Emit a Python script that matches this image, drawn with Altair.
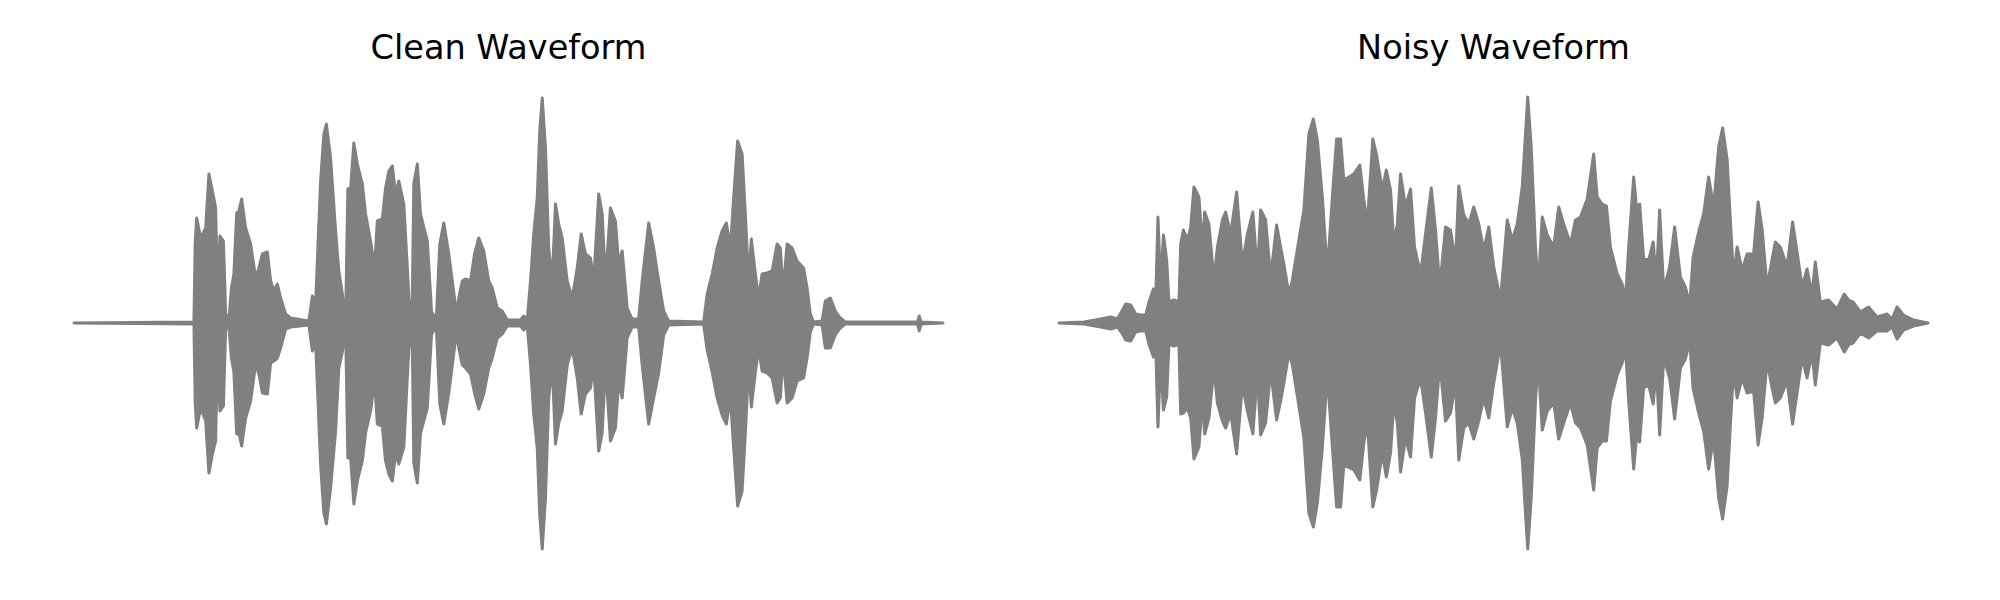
import altair as alt
import pandas as pd

# ---- Clean waveform envelope (time in s, amplitude in arbitrary units) ----
clean_t = [0.000, 0.480, 0.485, 0.491, 0.507, 0.527, 0.540, 0.554, 0.567, 0.574,
           0.584, 0.598, 0.607, 0.620, 0.630, 0.640, 0.651, 0.660, 0.671, 0.687,
           0.707, 0.727, 0.740, 0.754, 0.774, 0.787, 0.800, 0.814, 0.827, 0.847,
           0.867, 0.940, 0.954, 0.967, 0.976, 0.987, 1.000, 1.010, 1.027, 1.047,
           1.060, 1.074, 1.087, 1.096, 1.107, 1.120, 1.134, 1.154, 1.167, 1.187,
           1.203, 1.214, 1.234, 1.247, 1.260, 1.274, 1.287, 1.300, 1.320, 1.334,
           1.344, 1.354, 1.360, 1.374, 1.387, 1.414, 1.431, 1.443, 1.451, 1.464,
           1.480, 1.500, 1.514, 1.531, 1.540, 1.554, 1.567, 1.587, 1.603, 1.620,
           1.640, 1.660, 1.674, 1.694, 1.714, 1.734, 1.787, 1.800, 1.814, 1.827,
           1.840, 1.854, 1.864, 1.874, 1.887, 1.900, 1.914, 1.927, 1.940, 1.954,
           1.974, 1.994, 2.014, 2.030, 2.047, 2.067, 2.080, 2.100, 2.114, 2.127,
           2.147, 2.167, 2.180, 2.194, 2.214, 2.234, 2.260, 2.274, 2.300, 2.320,
           2.340, 2.360, 2.380, 2.520, 2.534, 2.554, 2.574, 2.594, 2.611, 2.627,
           2.640, 2.656, 2.674, 2.687, 2.700, 2.711, 2.727, 2.740, 2.754, 2.774,
           2.794, 2.814, 2.827, 2.838, 2.854, 2.874, 2.894, 2.920, 2.934, 2.947,
           2.960, 2.994, 3.007, 3.027, 3.047, 3.067, 3.087, 3.376, 3.383, 3.390,
           3.478]
clean_top = [0, 1, 80, 105, 85, 95, 149, 132, 115, 32,
             87, 82, 9, 4, 35, 49, 110, 112, 124, 95,
             79, 45, 55, 69, 71, 42, 32, 39, 25, 9,
             5, 2, 27, 19, 75, 142, 189, 199, 165, 92,
             52, 29, 3, 134, 135, 180, 159, 139, 109, 82,
             55, 102, 104, 135, 152, 157, 129, 142, 119, 55,
             9, 24, 139, 159, 109, 82, 12, 5, 9, 79,
             100, 69, 42, 9, 25, 42, 44, 42, 69, 85,
             72, 42, 35, 15, 12, 3, 3, 7, 3, 42,
             89, 125, 192, 225, 175, 75, 42, 119, 99, 85,
             42, 25, 55, 89, 69, 65, 42, 129, 109, 42,
             115, 102, 59, 72, 15, 4, 4, 42, 100, 75,
             42, 12, 2, 1, 29, 49, 75, 92, 100, 75,
             125, 182, 169, 109, 42, 84, 49, 25, 49, 50,
             52, 79, 75, 32, 79, 75, 62, 55, 35, 9,
             1, 2, 22, 25, 12, 5, 1, 1, 7, 1,
             0]
clean_bot = [0, 1, 80, 105, 85, 98, 150, 131, 118, 31,
             88, 83, 5, 4, 35, 49, 111, 110, 123, 95,
             78, 41, 51, 70, 71, 40, 38, 35, 25, 6,
             4, 2, 28, 20, 75, 142, 190, 201, 165, 108,
             45, 29, 3, 135, 135, 181, 158, 138, 110, 88,
             58, 101, 103, 138, 151, 158, 130, 141, 124, 55,
             9, 24, 140, 160, 110, 85, 12, 5, 9, 81,
             101, 70, 42, 9, 25, 42, 45, 51, 70, 86,
             71, 45, 35, 15, 11, 3, 3, 7, 3, 41,
             91, 125, 192, 226, 175, 75, 42, 121, 100, 88,
             42, 25, 55, 91, 71, 65, 42, 128, 110, 42,
             118, 105, 59, 75, 15, 4, 4, 42, 101, 75,
             50, 12, 2, 1, 27, 49, 75, 92, 101, 75,
             125, 183, 168, 110, 42, 84, 49, 25, 48, 50,
             55, 80, 75, 32, 80, 75, 58, 55, 35, 9,
             1, 2, 25, 25, 12, 5, 1, 1, 8, 1,
             0]

# ---- Noisy waveform envelope ----
noisy_t = [0.000, 0.100, 0.167, 0.207, 0.234, 0.254, 0.267, 0.287, 0.307, 0.327,
           0.347, 0.360, 0.378, 0.387, 0.396, 0.407, 0.418, 0.431, 0.440, 0.460,
           0.480, 0.487, 0.498, 0.514, 0.527, 0.540, 0.560, 0.574, 0.583, 0.600,
           0.620, 0.634, 0.654, 0.667, 0.687, 0.711, 0.734, 0.754, 0.776, 0.794,
           0.807, 0.827, 0.847, 0.871, 0.887, 0.900, 0.920, 0.934, 0.964, 0.980,
           1.000, 1.018, 1.034, 1.054, 1.074, 1.094, 1.111, 1.127, 1.140, 1.180,
           1.204, 1.220, 1.234, 1.256, 1.271, 1.294, 1.310, 1.327, 1.340, 1.354,
           1.367, 1.387, 1.407, 1.423, 1.447, 1.467, 1.490, 1.507, 1.524, 1.547,
           1.567, 1.587, 1.600, 1.620, 1.640, 1.660, 1.680, 1.700, 1.720, 1.740,
           1.767, 1.794, 1.814, 1.834, 1.854, 1.867, 1.876, 1.890, 1.907, 1.918,
           1.934, 1.954, 1.980, 2.000, 2.020, 2.047, 2.067, 2.087, 2.114, 2.140,
           2.154, 2.174, 2.191, 2.207, 2.234, 2.254, 2.267, 2.280, 2.300, 2.311,
           2.324, 2.340, 2.360, 2.378, 2.391, 2.404, 2.420, 2.444, 2.464, 2.487,
           2.507, 2.524, 2.538, 2.560, 2.580, 2.600, 2.620, 2.640, 2.656, 2.674,
           2.687, 2.700, 2.714, 2.734, 2.754, 2.780, 2.798, 2.814, 2.834, 2.854,
           2.867, 2.887, 2.914, 2.936, 2.954, 2.974, 2.994, 3.014, 3.027, 3.047,
           3.080, 3.114, 3.143, 3.160, 3.178, 3.207, 3.240, 3.274, 3.314, 3.334,
           3.354, 3.380, 3.420, 3.478]
noisy_top = [0, 1, 4, 6, 4, 13, 19, 18, 9, 8,
             8, 21, 34, 23, 106, 36, 88, 63, 21, 23,
             21, 79, 93, 83, 96, 136, 126, 76, 111, 99,
             43, 76, 103, 111, 89, 131, 59, 89, 111, 49,
             113, 103, 46, 98, 76, 59, 29, 43, 89, 113,
             189, 204, 183, 126, 51, 126, 184, 184, 143, 149,
             158, 123, 99, 184, 168, 133, 153, 133, 79, 99,
             149, 116, 134, 76, 49, 89, 135, 93, 36, 96,
             93, 61, 137, 108, 99, 116, 99, 73, 96, 56,
             23, 103, 83, 99, 136, 189, 226, 176, 76, 36,
             106, 88, 76, 116, 99, 79, 103, 106, 124, 169,
             126, 119, 117, 76, 49, 39, 23, 76, 146, 116,
             119, 64, 63, 81, 43, 113, 33, 56, 96, 46,
             36, 19, 66, 91, 109, 146, 116, 176, 195, 164,
             103, 46, 76, 53, 69, 69, 121, 94, 36, 64,
             81, 76, 56, 101, 71, 36, 54, 29, 61, 21,
             23, 14, 29, 23, 21, 11, 16, 6, 9, 4,
             16, 8, 3, 0]
noisy_bot = [0, 1, 4, 6, 4, 11, 17, 18, 9, 8,
             8, 21, 34, 23, 104, 36, 87, 74, 21, 23,
             21, 91, 90, 85, 95, 136, 124, 78, 111, 95,
             45, 80, 98, 105, 90, 131, 62, 88, 111, 50,
             112, 100, 48, 97, 78, 60, 30, 42, 89, 115,
             190, 204, 180, 125, 52, 124, 184, 184, 142, 147,
             157, 120, 100, 184, 167, 130, 154, 130, 80, 100,
             149, 115, 134, 75, 55, 90, 134, 95, 40, 98,
             90, 60, 137, 105, 100, 116, 98, 75, 95, 60,
             21, 104, 85, 100, 136, 190, 226, 175, 78, 38,
             107, 88, 80, 116, 100, 80, 100, 105, 122, 167,
             125, 118, 118, 78, 52, 40, 25, 78, 146, 115,
             119, 65, 62, 81, 45, 112, 35, 55, 96, 45,
             36, 18, 66, 90, 108, 146, 115, 175, 196, 163,
             102, 48, 75, 55, 70, 68, 122, 95, 38, 65,
             80, 75, 58, 101, 70, 35, 55, 30, 62, 20,
             22, 15, 29, 22, 20, 10, 15, 8, 8, 4,
             16, 7, 3, 0]

titles = ["Clean Waveform", "Noisy Waveform"]

GRAY = "#808080"


def panel(t, top, bot, title):
    df = pd.DataFrame({"t": t, "top": top, "bot": [-b for b in bot]})
    return (
        alt.Chart(df, title=alt.Title(title))
        .mark_area(color=GRAY, fill=GRAY, stroke=GRAY, strokeWidth=3,
                   strokeJoin="round", opacity=1)
        .encode(
            x=alt.X("t:Q", axis=None,
                    scale=alt.Scale(domain=[0, 3.478], nice=False, zero=False)),
            y=alt.Y("top:Q", axis=None,
                    scale=alt.Scale(domain=[-240, 240], nice=False)),
            y2="bot:Q",
        )
        .properties(width=869, height=480)
    )


left = panel(clean_t, clean_top, clean_bot, titles[0])
right = panel(noisy_t, noisy_top, noisy_bot, titles[1])

chart = (
    alt.hconcat(left, right, spacing=112)
    .properties(padding={"left": 64, "top": 23, "right": 5, "bottom": 5})
    .configure_view(stroke=None)
    .configure_title(fontSize=33.5, font="DejaVu Sans", fontWeight="normal",
                     color="black", anchor="middle", baseline="alphabetic",
                     offset=17)
)

chart.save("out.html", embed_options={"renderer": "svg", "actions": False})
